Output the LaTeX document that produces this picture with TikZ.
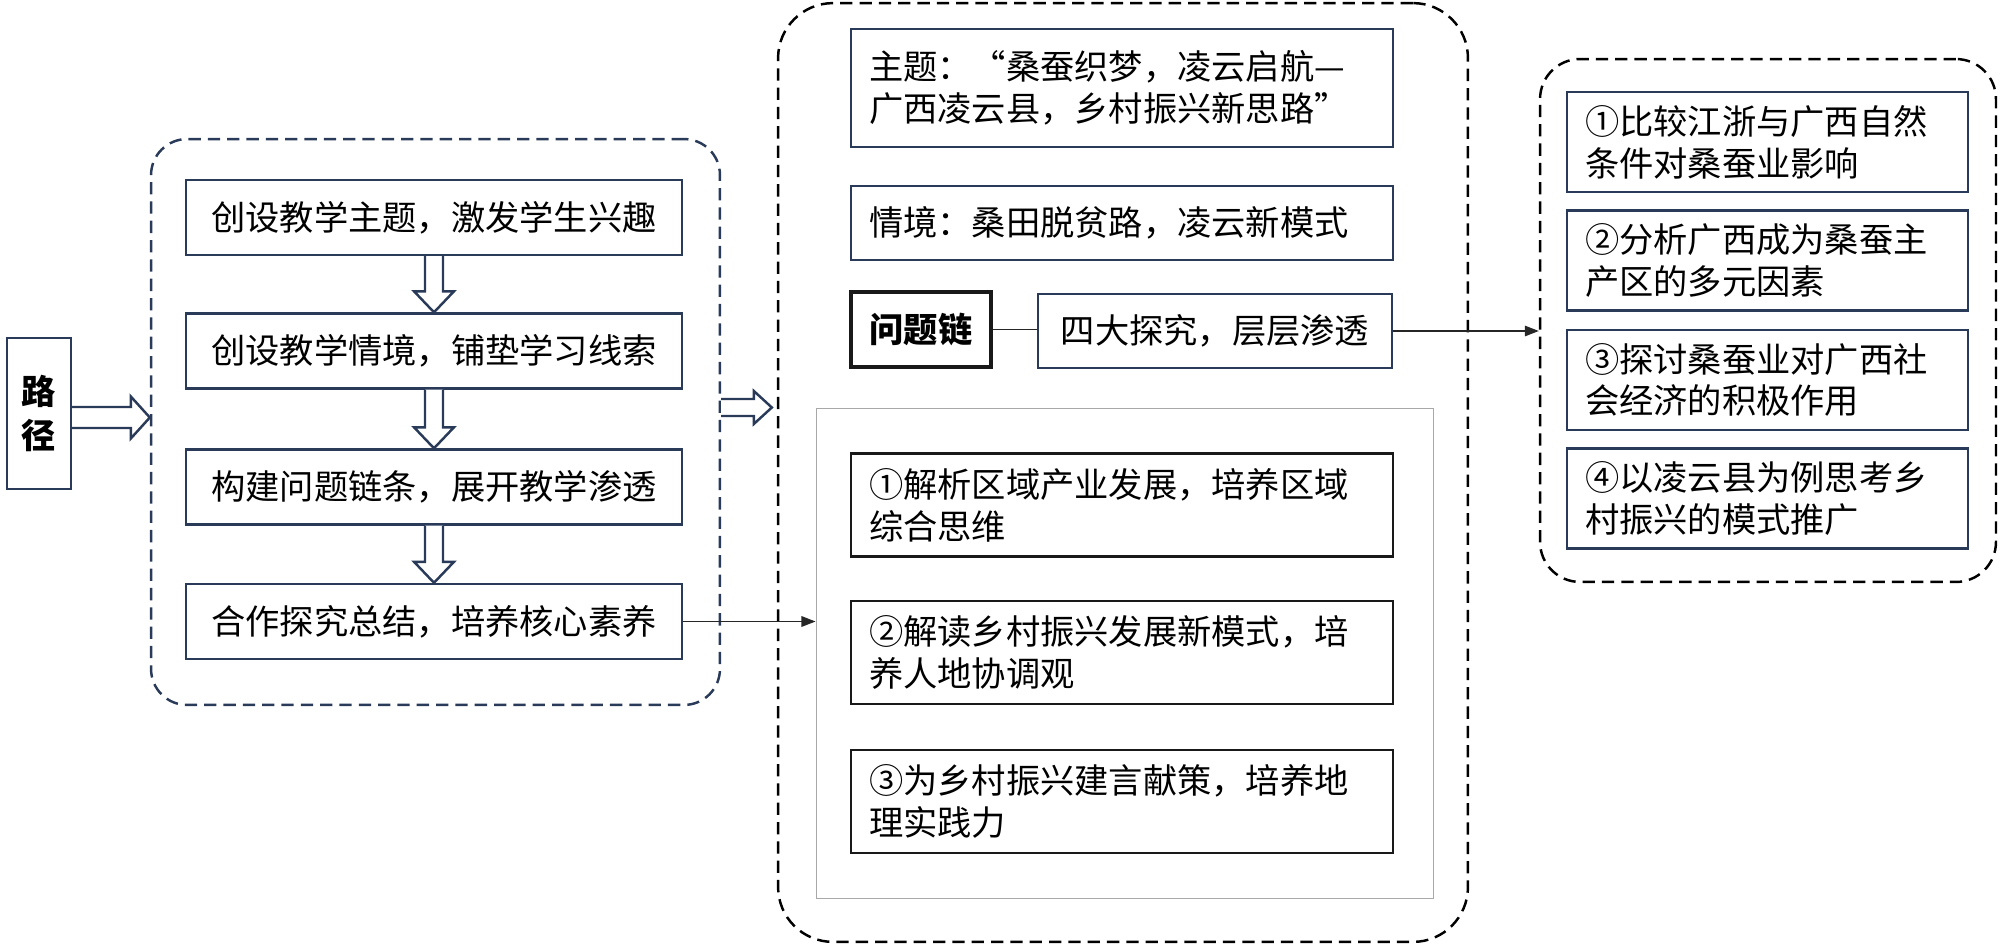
\documentclass[tikz,border=0pt]{standalone}
\usepackage{fontspec}
\setmainfont{Noto Sans CJK SC}
\usetikzlibrary{arrows.meta,calc}
\definecolor{navy}{HTML}{2A3B5A}
\definecolor{rectgray}{HTML}{A8A8A8}
\begin{document}
\begin{tikzpicture}[x=0.02cm,y=-0.02cm,
  txt/.style={font=\fontsize{19.5}{23.8}\selectfont},
  box/.style={txt,draw=navy,line width=1.4pt,fill=white,inner ysep=0pt,inner xsep=0.36cm},
  kbox/.style={box,draw=black!90},
  lbox/.style={box,minimum width=9.92cm,minimum height=1.5cm,text width=9.2cm,align=center},
  mbox/.style={box,minimum width=10.84cm,text width=10.12cm,align=left},
  rbox/.style={box,minimum width=8.02cm,minimum height=2cm,text width=7.3cm,align=left},
  grp/.style={draw=black,line width=1.4pt,dash pattern=on 7pt off 4pt,inner sep=0pt},
  barrow/.style={draw=navy,line width=1.4pt,fill=white,line join=miter},
  conn/.style={draw=black!85,line width=0.8pt},
  tip/.style={-{Triangle[length=8pt,width=6pt]}}]
\useasboundingbox (0,0) rectangle (2000,946);
% groups
\node[grp,draw=navy,rounded corners=0.72cm,minimum width=11.38cm,minimum height=11.32cm] (G1) at (435.5,422) {};
\node[grp,rounded corners=1.1cm,minimum width=13.8cm,minimum height=18.78cm] (G2) at (1123,472.5) {};
\node[grp,rounded corners=0.8cm,minimum width=9.12cm,minimum height=10.46cm] (G3) at (1768,320.5) {};
\node[draw=rectgray,line width=0.6pt,inner sep=0pt,minimum width=12.36cm,minimum height=9.82cm] (GR) at (1125,653.5) {};
% left column
\node[box,minimum width=1.28cm,minimum height=3.02cm,inner xsep=0pt,align=center,font=\fontsize{19.5}{25}\selectfont\bfseries] (lu) at (39,413.5) {路\\径};
\node[lbox] (b1) at (434,217.5) {创设教学主题，激发学生兴趣};
\node[lbox] (b2) at (434,351) {创设教学情境，铺垫学习线索};
\node[lbox] (b3) at (434,487) {构建问题链条，展开教学渗透};
\node[lbox] (b4) at (434,621.5) {合作探究总结，培养核心素养};
% middle column
\node[mbox,minimum height=2.36cm] (th) at (1122,88) {主题：“桑蚕织梦，凌云启航—\\广西凌云县，乡村振兴新思路”};
\node[mbox,minimum height=1.48cm] (sc) at (1122,223) {情境：桑田脱贫路，凌云新模式};
\node[kbox,line width=1.8pt,minimum width=2.8cm,minimum height=1.5cm,inner xsep=0pt,font=\fontsize{19.5}{23.8}\selectfont\bfseries] (qc) at (921,329.5) {问题链};
\node[box,minimum width=7.08cm,minimum height=1.48cm] (fo) at (1215,331) {四大探究，层层渗透};
\node[mbox,draw=black!90,minimum height=2.06cm] (m1) at (1122,505) {①解析区域产业发展，培养区域\\综合思维};
\node[mbox,draw=black!90,minimum height=2.06cm] (m2) at (1122,652.5) {②解读乡村振兴发展新模式，培\\养人地协调观};
\node[mbox,draw=black!90,minimum height=2.06cm] (m3) at (1122,801.5) {③为乡村振兴建言献策，培养地\\理实践力};
% right column
\node[rbox] (r1) at (1767.5,142) {①比较江浙与广西自然\\条件对桑蚕业影响};
\node[rbox] (r2) at (1767.5,260.5) {②分析广西成为桑蚕主\\产区的多元因素};
\node[rbox] (r3) at (1767.5,380) {③探讨桑蚕业对广西社\\会经济的积极作用};
\node[rbox] (r4) at (1767.5,498.5) {④以凌云县为例思考乡\\村振兴的模式推广};
% block arrows
\coordinate (a1s) at ($(lu.east)+(0,4)$);
\coordinate (a1e) at (a1s -| G1.west);
\draw[barrow] ($(a1s)+(0,-10.5)$) -- ($(a1e)+(-19,-10.5)$) -- ($(a1e)+(-19,-21)$) -- (a1e)
  -- ($(a1e)+(-19,21)$) -- ($(a1e)+(-19,10.5)$) -- ($(a1s)+(0,10.5)$);
\coordinate (a2s) at ($(G1.east)+(0,-14.5)$);
\coordinate (a2e) at ($(a2s -| G2.west)+(-5,0)$);
\draw[barrow] ($(a2s)+(0,-8.5)$) -- ($(a2e)+(-18,-8.5)$) -- ($(a2e)+(-18,-16.5)$) -- (a2e)
  -- ($(a2e)+(-18,16.5)$) -- ($(a2e)+(-18,8.5)$) -- ($(a2s)+(0,8.5)$);
\foreach \u/\v in {b1/b2,b2/b3,b3/b4}{
  \draw[barrow] ($(\u.south)+(-9,0)$) -- ($(\v.north)+(-9,-21)$) -- ($(\v.north)+(-20,-21)$) -- (\v.north)
    -- ($(\v.north)+(20,-21)$) -- ($(\v.north)+(9,-21)$) -- ($(\u.south)+(9,0)$);
}
% connectors
\draw[conn,tip] (b4.east) -- (b4.east -| GR.west);
\draw[conn] (qc.east) -- (qc.east -| fo.west);
\draw[conn,tip] (fo.east) -- (fo.east -| G3.west);
\end{tikzpicture}
\end{document}
